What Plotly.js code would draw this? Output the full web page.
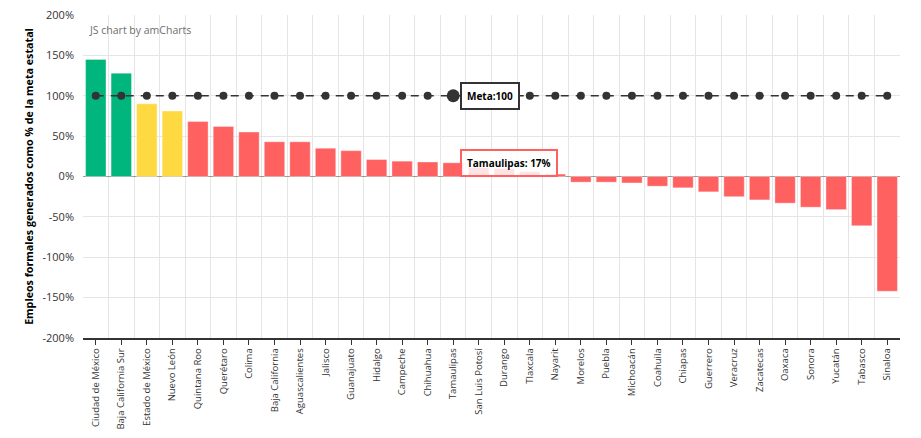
<!DOCTYPE html>
<html>
<head>
<meta charset="utf-8">
<script src="https://cdn.plot.ly/plotly-3.0.1.min.js"></script>
<style>
    html, body { margin: 0; padding: 0; background: white; }
    #chart { width: 921px; height: 438px; }
</style>
</head>
<body>
<div id="chart"></div>
<script>
// Estados y avance como % de la meta estatal
const estados = [
    'Ciudad de México', 'Baja California Sur', 'Estado de México', 'Nuevo León',
    'Quintana Roo', 'Querétaro', 'Colima', 'Baja California', 'Aguascalientes',
    'Jalisco', 'Guanajuato', 'Hidalgo', 'Campeche', 'Chihuahua', 'Tamaulipas',
    'San Luis Potosí', 'Durango', 'Tlaxcala', 'Nayarit', 'Morelos', 'Puebla',
    'Michoacán', 'Coahuila', 'Chiapas', 'Guerrero', 'Veracruz', 'Zacatecas',
    'Oaxaca', 'Sonora', 'Yucatán', 'Tabasco', 'Sinaloa'
];
const avance = [
    145, 128, 90, 81, 68, 62, 55, 43, 43, 35, 32, 21, 19, 18, 17,
    11, 10, 6, 3, -7, -7, -8, -12, -14, -19, -25, -29, -33, -38, -41, -61, -142
];
const meta = estados.map(() => 100);
const yTicks = [-200, -150, -100, -50, 0, 50, 100, 150, 200];
const seleccionado = 'Tamaulipas';

const VERDE = '#00b67c';
const AMARILLO = '#ffd941';
const ROJO = '#ff6161';

function colorPara(v) {
    if (v >= 100) return VERDE;
    if (v >= 75) return AMARILLO;
    return ROJO;
}

// posicion numerica de cada estado para poder dibujar la rejilla en los limites
const posiciones = estados.map((_, i) => i);

const barras = {
    type: 'bar',
    x: posiciones,
    y: avance,
    marker: {
        color: avance.map(colorPara),
        line: { color: 'rgba(255,255,255,0.35)', width: 1 }
    },
    hoverinfo: 'skip'
};

const lineaMeta = {
    type: 'scatter',
    mode: 'lines+markers',
    x: posiciones,
    y: meta,
    line: { color: '#333333', width: 1.5, dash: '8px,7px' },
    marker: {
        color: '#333333',
        opacity: 1,
        line: { width: 0 },
        size: estados.map(e => e === seleccionado ? 13 : 8)
    },
    hoverinfo: 'skip'
};

const idxSel = estados.indexOf(seleccionado);

const layout = {
    width: 921,
    height: 438,
    margin: { l: 83, r: 21, t: 15, b: 100 },
    paper_bgcolor: 'white',
    plot_bgcolor: 'white',
    showlegend: false,
    bargap: 0.2,
    font: { family: 'Open Sans, sans-serif', color: '#333333' },
    xaxis: {
        range: [-0.5, estados.length - 0.5],
        tickmode: 'array',
        tickvals: posiciones,
        ticktext: estados,
        showgrid: false,
        zeroline: false,
        showline: true,
        linecolor: '#333333',
        linewidth: 1.5,
        ticks: 'outside',
        ticklen: 5,
        tickcolor: '#333333',
        tickangle: -90,
        tickfont: { size: 9.5, color: '#333333' },
        minor: {
            tick0: -0.5,
            dtick: 1,
            showgrid: true,
            gridcolor: '#e5e5e5',
            gridwidth: 1,
            ticks: ''
        },
        automargin: false
    },
    yaxis: {
        range: [-200, 200],
        tickvals: yTicks,
        ticktext: yTicks.map(v => v + '%'),
        tickfont: { size: 11, color: '#333333' },
        ticklabelstandoff: 8,
        gridcolor: '#e5e5e5',
        zeroline: true,
        zerolinecolor: '#9a9a9a',
        zerolinewidth: 1,
        showline: false,
        automargin: false,
        title: {
            text: 'Empleos formales generados como % de la meta estatal',
            font: { size: 10.7, color: '#000000', weight: 'bold' },
            standoff: 6
        }
    },
    annotations: [
        {
            xref: 'paper', yref: 'paper', x: 0, y: 1,
            xanchor: 'left', yanchor: 'top',
            xshift: 4, yshift: -6,
            text: 'JS chart by amCharts',
            showarrow: false,
            font: { size: 10.5, color: '#6e6e6e' }
        },
        {
            x: idxSel, y: meta[idxSel],
            xanchor: 'left', yanchor: 'middle',
            xshift: 7,
            text: '<b>Meta:' + meta[idxSel] + '</b>',
            showarrow: false,
            font: { size: 10, color: '#000000' },
            bgcolor: 'white',
            bordercolor: '#333333',
            borderwidth: 2,
            borderpad: 5
        },
        {
            x: idxSel, y: avance[idxSel],
            xanchor: 'left', yanchor: 'middle',
            xshift: 7,
            text: '<b>' + seleccionado + ': ' + avance[idxSel] + '%</b>',
            showarrow: false,
            font: { size: 10, color: '#000000' },
            bgcolor: 'rgba(255,255,255,0.82)',
            bordercolor: ROJO,
            borderwidth: 2,
            borderpad: 5
        }
    ]
};

Plotly.newPlot('chart', [barras, lineaMeta], layout, { displayModeBar: false, staticPlot: true });
</script>
</body>
</html>
